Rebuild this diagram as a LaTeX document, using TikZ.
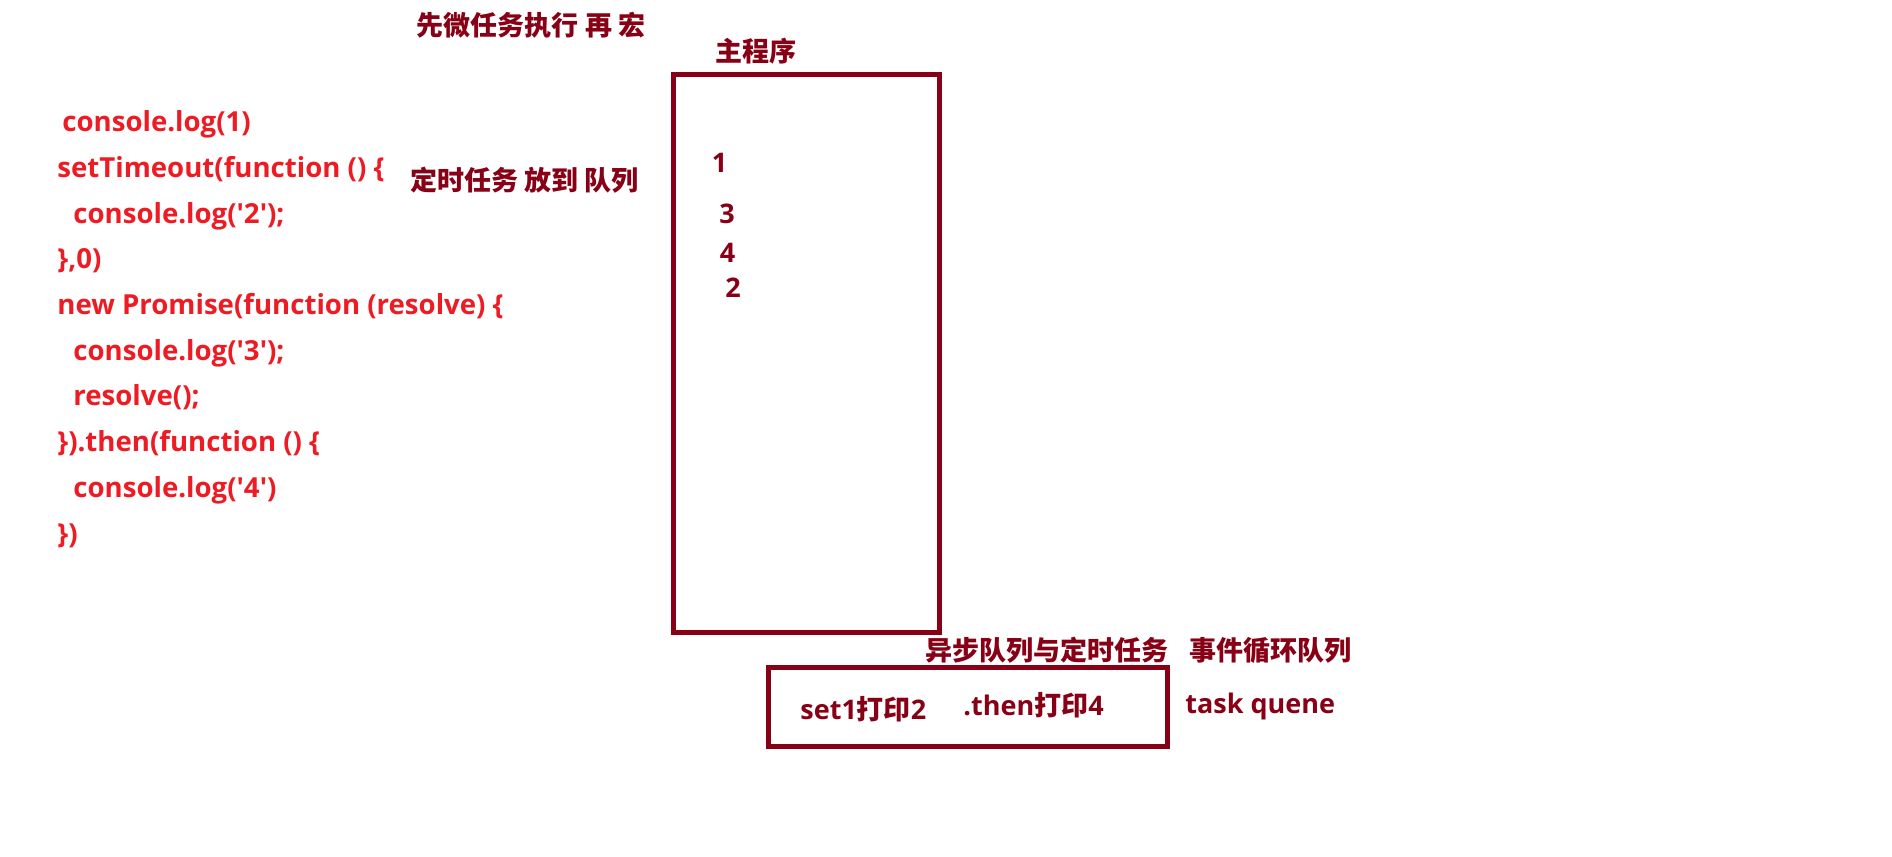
\documentclass[tikz,border=0pt]{standalone}
\usepackage{fontspec}
\newfontfamily\latf{Open Sans}
\newfontfamily\cjkf{Noto Sans CJK SC}
\definecolor{codered}{HTML}{ED1C24}
\definecolor{darkred}{HTML}{880015}
\begin{document}
\begin{tikzpicture}[x=0.5pt,y=-0.5pt,
  code/.style={anchor=base west,inner sep=0pt,text=codered,font=\latf\bfseries\fontsize{13.8pt}{16pt}\selectfont},
  lbl/.style={anchor=center,inner sep=0pt,text=darkred,font=\cjkf\bfseries\fontsize{13.5pt}{16pt}\selectfont},
  lat/.style={anchor=base,inner sep=0pt,text=darkred,font=\latf\bfseries\fontsize{13.5pt}{16pt}\selectfont},
  boxline/.style={draw=darkred,line width=2.5pt}]
\useasboundingbox (0,0) rectangle (1892,857);
% code
\node[code] (c1) at (62,131.7) {console.log(1)};
\node[code] (c2) at (57,177.4) {setTimeout(function () \{};
\node[code] (c3) at (73,223.1) {console.log('2');};
\node[code] (c4) at (57,268.8) {\},0)};
\node[code] (c5) at (57,314.5) {new Promise(function (resolve) \{};
\node[code] (c6) at (73,360.2) {console.log('3');};
\node[code] (c7) at (73,405.9) {resolve();};
\node[code] (c8) at (57,451.6) {\}).then(function () \{};
\node[code] (c9) at (73,497.3) {console.log('4')};
\node[code] (c10) at (57,543) {\})};
% labels
\node[lbl] (l1) at (531,25) {先微任务执行 再 宏};
\node[lbl] (l2) at (756,51) {主程序};
\node[lbl] (l3) at (524.5,180) {定时任务 放到 队列};
\node[lbl] (l4) at (1046.5,650) {异步队列与定时任务};
\node[lbl] (l5) at (1270,650) {事件循环队列};
% boxes
\draw[boxline] (673.5,74.5) rectangle (939.5,632.5);
\draw[boxline] (768,667) rectangle (1167.5,746.5);
% numbers
\node[lat] (n1) at (719.5,172) {1};
\node[lat] (n3) at (727,223) {3};
\node[lat] (n4) at (727.5,262) {4};
\node[lat] (n2) at (733,297) {2};
% queue contents
\node[lat,anchor=base west] (q1) at (800,719) {set1{\cjkf 打印}2};
\node[lat,anchor=base west] (q2) at (963,715) {.then{\cjkf 打印}4};
\node[lat,anchor=base west] (tq) at (1185,713) {task quene};
\end{tikzpicture}
\end{document}
